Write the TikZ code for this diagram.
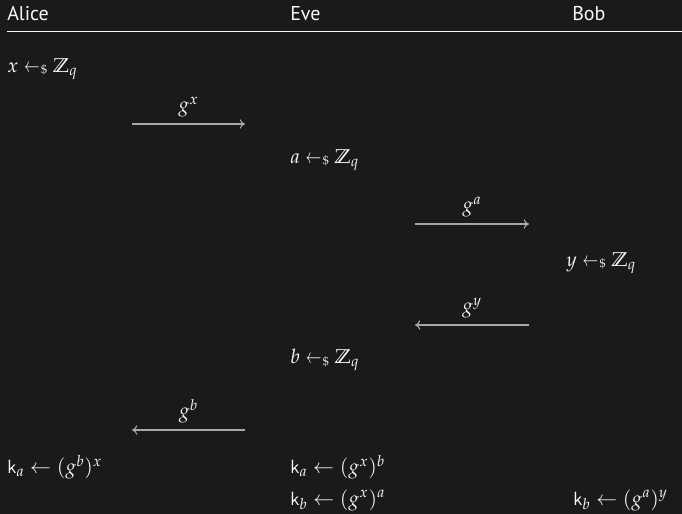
\documentclass[tikz,border=0pt]{standalone}
\usepackage{amssymb}
\usepackage{graphicx}
\usepackage{mathpazo}
\usepackage[no-math]{fontspec}
\setmainfont{PT Sans}
\setsansfont{PT Sans}
\usetikzlibrary{arrows.meta,positioning}

\definecolor{bgdark}{HTML}{1A1A1A}
\definecolor{inkwhite}{HTML}{F8F8F8}
\definecolor{msggray}{HTML}{A8A8A8}
\newcommand{\sampl}{\mathrel{\scalebox{0.75}[1]{$\leftarrow$}\mkern1mu\lower1pt\hbox{$\scriptscriptstyle\$$}}}
\newcommand{\Zq}{\mathbb{Z}_q}

\tikzset{
  party/.style={anchor=west,inner sep=0pt,text=inkwhite},
  msg/.style={draw=msggray,line width=0.8pt,-{To[length=4pt,width=7pt]}},
  msglabel/.style={above=5pt,inner sep=0pt,text=inkwhite}
}

\begin{document}
\begin{tikzpicture}[x=0.75pt,y=-0.75pt,font=\fontsize{15}{18}\selectfont]
  \fill[bgdark] (0,0) rectangle (682,514);
  \useasboundingbox (0,0) rectangle (682,514);

  % parties
  \node[party] (alice) at (7,14) {Alice};
  \node[party] (eve) at (290,14) {Eve};
  \node[party] (bob) at (572,14) {Bob};
  \coordinate (ruleL) at (7,31);
  \coordinate (ruleR) at (682,31);
  \draw[inkwhite!85,line width=0.7pt] (ruleL) -- (ruleR);

  % sampling
  \node[party] (sx) at (7,69) {$x \sampl \Zq$};
  \node[party] (sa) at (290,160) {$a \sampl \Zq$};
  \node[party] (sy) at (566,263) {$y \sampl \Zq$};
  \node[party] (sb) at (290,360) {$b \sampl \Zq$};

  % messages
  \coordinate (m1s) at (132,124); \coordinate (m1e) at (245,124);
  \coordinate (m2s) at (415,224); \coordinate (m2e) at (529,224);
  \coordinate (m3s) at (529,325); \coordinate (m3e) at (415,325);
  \coordinate (m4s) at (245,430); \coordinate (m4e) at (132,430);
  \draw[msg] (m1s) -- node[msglabel] {$g^x$} (m1e);
  \draw[msg] (m2s) -- node[msglabel] {$g^a$} (m2e);
  \draw[msg] (m3s) -- node[msglabel] {$g^y$} (m3e);
  \draw[msg] (m4s) -- node[msglabel] {$g^b$} (m4e);

  % keys
  \node[party] (ka) at (7,467) {$\mathsf{k}_a \leftarrow (g^b)^x$};
  \node[party] (eka) at (290,467) {$\mathsf{k}_a \leftarrow (g^x)^b$};
  \node[party] (ekb) at (290,500) {$\mathsf{k}_b \leftarrow (g^x)^a$};
  \node[party] (kb) at (573,500) {$\mathsf{k}_b \leftarrow (g^a)^y$};
\end{tikzpicture}
\end{document}
